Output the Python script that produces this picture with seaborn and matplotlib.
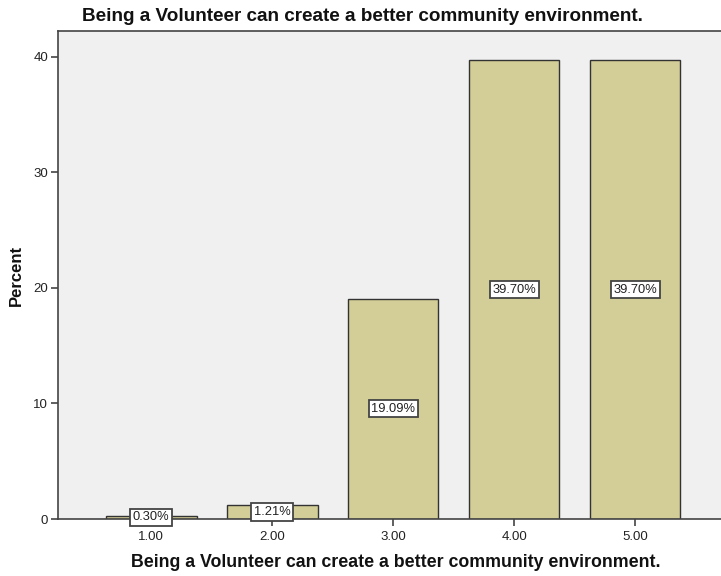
import matplotlib
matplotlib.use("Agg")
import matplotlib.pyplot as plt
import seaborn as sns
import pandas as pd

# Response categories and their share of respondents (percent)
categories = ["1.00", "2.00", "3.00", "4.00", "5.00"]
percents = [0.30, 1.21, 19.09, 39.70, 39.70]
y_ticks = [0, 10, 20, 30, 40]

title = "Being a Volunteer can create a better community environment."

sns.set_theme(style="white")
plt.rcParams["font.family"] = ["Liberation Sans", "DejaVu Sans"]

df = pd.DataFrame({"category": categories, "percent": percents})

fig = plt.figure(figsize=(7.21, 5.76), dpi=100)
fig.patch.set_facecolor("white")
ax = fig.add_axes([58 / 721, 57 / 576, 1 - 58 / 721, (519 - 31) / 576])
ax.set_facecolor("#F0F0F0")

sns.barplot(data=df, x="category", y="percent", ax=ax, color="#D3CE97",
            saturation=1, width=0.75, edgecolor="#333333", linewidth=1.0)

ax.set_xlim(-0.77, 4.71)
ax.set_ylim(0, 42.25)
ax.set_yticks(y_ticks)
ax.set_yticklabels([str(t) for t in y_ticks])

# value labels in white boxes at the middle of each bar
for i, p in enumerate(percents):
    ax.text(i, p / 2, f"{p:.2f}%", ha="center", va="center", fontsize=9.3,
            color="#222222",
            bbox=dict(boxstyle="square,pad=0.2", facecolor="white",
                      edgecolor="#444444", linewidth=1.3))

for side in ["left", "top", "bottom"]:
    ax.spines[side].set_visible(True)
    ax.spines[side].set_color("#444444")
    ax.spines[side].set_linewidth(1.2)
ax.spines["right"].set_visible(False)

ax.tick_params(axis="both", which="both", direction="out", length=5,
               width=1.2, color="#444444", labelsize=9.5, labelcolor="#222222",
               pad=2)
ax.tick_params(axis="x", bottom=True, pad=4)
ax.tick_params(axis="y", left=True)

ax.set_title(title, fontsize=13.6, fontweight="bold", color="#111111",
             x=0.4585, pad=7)
ax.set_xlabel(title, fontsize=12.8, fontweight="bold", color="#111111",
              labelpad=10)
ax.xaxis.set_label_coords(0.509, -0.072)
ax.set_ylabel("Percent", fontsize=12, fontweight="bold", color="#111111",
              labelpad=7)

fig.savefig("out.png", dpi=100)
